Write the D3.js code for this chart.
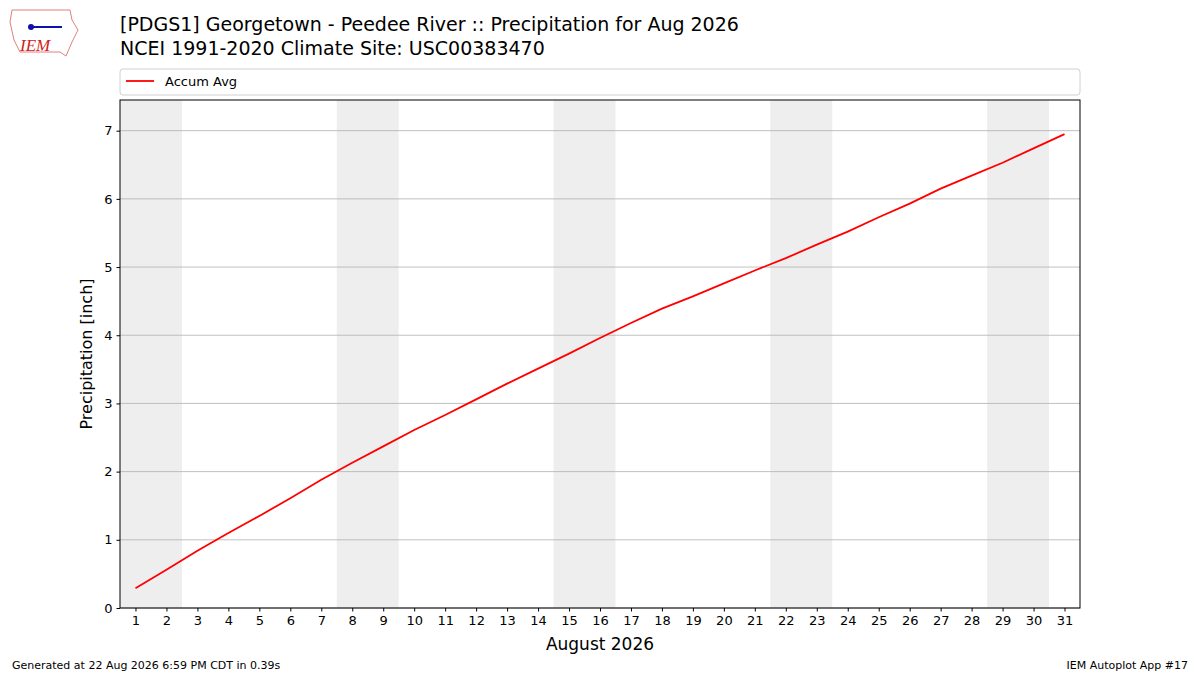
<!DOCTYPE html>
<html><head><meta charset="utf-8">
<script src="https://cdn.jsdelivr.net/npm/d3@7"></script>
<style>body{margin:0;background:#fff;font-family:"DejaVu Sans",sans-serif}</style>
</head><body><svg id="c" width="1200" height="675"></svg>
<script>
const days = d3.range(1,32);
const accumAvg = [0.29,0.56,0.84,1.10,1.35,1.61,1.88,2.13,2.37,2.61,2.83,3.06,3.29,3.51,3.73,3.96,4.18,4.39,4.57,4.76,4.95,5.13,5.33,5.52,5.73,5.93,6.15,6.34,6.53,6.74,6.95];
const weekends = [[1,2],[8,9],[15,16],[22,23],[29,30]];
const yTicks = [0,1,2,3,4,5,6,7];

const svg = d3.select("#c");
const L=120,R=1080,T=100,B=608;
const x = d3.scaleLinear().domain([0.5,31.5]).range([L,R]);
const y = d3.scaleLinear().domain([0,7.45]).range([B,T]);
const f = "DejaVu Sans, sans-serif";

svg.selectAll(".wk").data(weekends).enter().append("rect")
  .attr("x",d=>x(d[0]-0.5)).attr("width",d=>x(d[1]+0.5)-x(d[0]-0.5))
  .attr("y",T).attr("height",B-T).attr("fill","#eeeeee");

svg.selectAll(".gl").data(yTicks).enter().append("line")
  .attr("x1",L).attr("x2",R).attr("y1",d=>y(d)).attr("y2",d=>y(d))
  .attr("stroke","#b0b0b0").attr("stroke-width",0.8);

const xa = svg.append("g").attr("transform",`translate(0,${B})`)
  .call(d3.axisBottom(x).tickValues(days).tickSize(3.5).tickPadding(4));
const ya = svg.append("g").attr("transform",`translate(${L},0)`)
  .call(d3.axisLeft(y).tickValues(yTicks).tickSize(3.5).tickPadding(4));
[xa,ya].forEach(a=>{a.select(".domain").remove();a.selectAll("text").attr("font-size",13).attr("font-family",f).attr("fill","#000");a.selectAll("line").attr("stroke","#000");});

svg.append("rect").attr("x",L).attr("y",T).attr("width",R-L).attr("height",B-T)
  .attr("fill","none").attr("stroke","#000").attr("stroke-width",1);

svg.append("path").datum(days.map((d,i)=>[d,accumAvg[i]]))
  .attr("d",d3.line().x(d=>x(d[0])).y(d=>y(d[1])))
  .attr("fill","none").attr("stroke","red").attr("stroke-width",1.8);

// legend
svg.append("rect").attr("x",120).attr("y",69).attr("width",960).attr("height",26).attr("rx",3)
  .attr("fill","#fff").attr("stroke","#d0d0d0");
svg.append("line").attr("x1",126).attr("x2",154).attr("y1",81).attr("y2",81).attr("stroke","red").attr("stroke-width",1.8);
svg.append("text").attr("x",165).attr("y",86).attr("font-size",13).attr("font-family",f).text("Accum Avg");

svg.append("text").attr("x",120).attr("y",31).attr("font-size",19).attr("font-family",f).text("[PDGS1] Georgetown - Peedee River :: Precipitation for Aug 2026");
svg.append("text").attr("x",120).attr("y",55).attr("font-size",19).attr("font-family",f).text("NCEI 1991-2020 Climate Site: USC00383470");

svg.append("text").attr("x",600).attr("y",650).attr("text-anchor","middle").attr("font-size",17).attr("font-family",f).text("August 2026");
svg.append("text").attr("transform",`translate(92,${(T+B)/2}) rotate(-90)`).attr("text-anchor","middle").attr("font-size",16).attr("font-family",f).text("Precipitation [inch]");

svg.append("text").attr("x",12).attr("y",669).attr("font-size",11).attr("font-family",f).text("Generated at 22 Aug 2026 6:59 PM CDT in 0.39s");
svg.append("text").attr("x",1188).attr("y",669).attr("text-anchor","end").attr("font-size",11).attr("font-family",f).text("IEM Autoplot App #17");

// logo
svg.append("path").attr("d","M12,10 L70,10 L72,20 L78,30 L72,42 L66,56 L60,52 L20,52 L14,40 L10,22 Z")
  .attr("fill","#fff").attr("stroke","#e08080").attr("stroke-width",1);
svg.append("text").attr("x",20).attr("y",51).attr("font-size",17).attr("font-style","italic").attr("font-family","Liberation Serif, serif").attr("fill","#d02020").text("IEM");
svg.append("line").attr("x1",30).attr("x2",62).attr("y1",27).attr("y2",27).attr("stroke","#1010b0").attr("stroke-width",2);
svg.append("circle").attr("cx",31).attr("cy",27).attr("r",3).attr("fill","#1010b0");
</script></body></html>
